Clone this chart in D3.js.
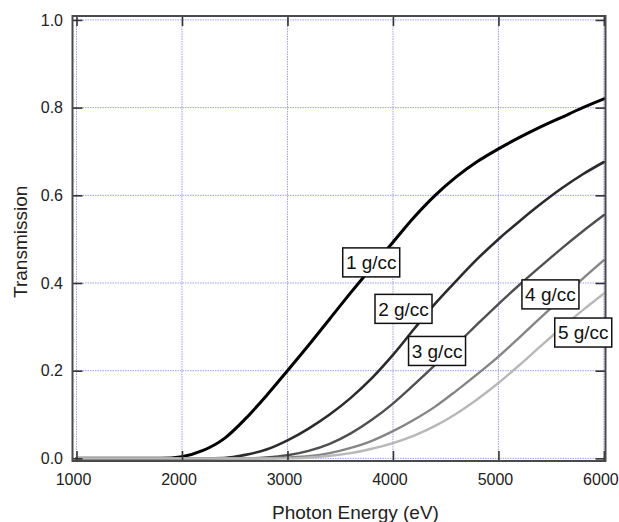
<!DOCTYPE html>
<html>
<head>
<meta charset="utf-8">
<script src="https://cdn.jsdelivr.net/npm/d3@7"></script>
<style>
  html, body { margin: 0; padding: 0; background: #fff; }
  svg { display: block; font-family: "Liberation Sans", Arial, Helvetica, sans-serif; }
</style>
</head>
<body>
<svg id="chart" width="619" height="522"></svg>
<script>
// ---- data ----
const energies = [1000,1200,1400,1600,1800,2000,2200,2400,2600,2800,3000,3200,3400,3600,3800,4000,4200,4400,4600,4800,5000,5200,5400,5600,5800,6000];
const trans1 = [0,0,0,0,0,0.004,0.018,0.045,0.090,0.143,0.200,0.258,0.318,0.378,0.436,0.493,0.550,0.600,0.642,0.677,0.706,0.732,0.756,0.778,0.800,0.820];
const trans2 = [0,0,0,0,0,0,0,0.001,0.008,0.020,0.041,0.068,0.100,0.138,0.183,0.236,0.295,0.353,0.405,0.455,0.500,0.541,0.580,0.616,0.648,0.676];
const trans3 = [0,0,0,0,0,0,0,0,0,0.002,0.007,0.017,0.033,0.057,0.088,0.125,0.168,0.213,0.259,0.306,0.352,0.396,0.438,0.479,0.518,0.555];
const trans4 = [0,0,0,0,0,0,0,0,0,0,0.002,0.005,0.012,0.024,0.040,0.062,0.088,0.118,0.154,0.192,0.232,0.276,0.321,0.366,0.410,0.452];
const trans5 = [0,0,0,0,0,0,0,0,0,0,0,0.002,0.006,0.012,0.022,0.035,0.052,0.074,0.102,0.135,0.172,0.213,0.256,0.298,0.338,0.376];
const seriesNames = ["1 g/cc","2 g/cc","3 g/cc","4 g/cc","5 g/cc"];
// label anchor points in data units (energy, transmission)
const labelE = [3794, 4100, 4418, 5493, 5804];
const labelT = [0.447, 0.341, 0.245, 0.374, 0.287];
const xTicks = [1000,2000,3000,4000,5000,6000];
const yTicks = [0.0,0.2,0.4,0.6,0.8,1.0];
const xTitle = "Photon Energy (eV)";
const yTitle = "Transmission";

// ---- styles ----
const colors = ["#000000","#2b2b2b","#505050","#858585","#b8b8b8"];
const widths = [3, 2.6, 2.4, 2.4, 2.4];

const svg = d3.select("#chart");
const pLeft = 72.5, pRight = 605.5, pTop = 16, pBottom = 461;

const x = d3.scaleLinear().domain([962, 6015]).range([pLeft, pRight]);
const y = d3.scaleLinear().domain([-0.006, 1.009]).range([pBottom, pTop]);

// grid
const grid = svg.append("g").attr("stroke", "#8f8ff5").attr("stroke-width", 1)
  .attr("stroke-dasharray", "1.5,1").attr("opacity", 0.85);
grid.selectAll("line.v").data(xTicks).join("line").attr("class", "v")
  .attr("x1", d => x(d)).attr("x2", d => x(d)).attr("y1", pTop).attr("y2", pBottom);
grid.selectAll("line.h").data(yTicks).join("line").attr("class", "h")
  .attr("y1", d => y(d)).attr("y2", d => y(d)).attr("x1", pLeft).attr("x2", pRight);

// curves
const allSeries = [trans1, trans2, trans3, trans4, trans5];
const line = d3.line().x(d => x(d[0])).y(d => y(d[1])).curve(d3.curveMonotoneX);
svg.append("g").selectAll("path").data(allSeries).join("path")
  .attr("d", s => line(energies.map((e, i) => [e, s[i]])))
  .attr("fill", "none")
  .attr("stroke", (d, i) => colors[i])
  .attr("stroke-width", (d, i) => widths[i])
  .attr("stroke-linejoin", "round")
  .attr("stroke-linecap", "round");

// axes (inward ticks)
const axisStyle = g => {
  g.select(".domain").remove();
  g.selectAll(".tick line").attr("stroke", "#333").attr("stroke-width", 1.6);
  g.selectAll(".tick text").attr("fill", "#222").attr("font-size", 16)
    .attr("font-family", "Liberation Sans, Arial, Helvetica, sans-serif");
};
svg.append("g").attr("transform", `translate(0,${pBottom})`)
  .call(d3.axisBottom(x).tickValues(xTicks).tickSize(-10).tickPadding(12.5).tickFormat(d3.format("d")))
  .call(axisStyle)
  .call(g => g.selectAll(".tick text").attr("dx", -3.5));
svg.append("g").attr("transform", `translate(0,${pTop})`)
  .call(d3.axisTop(x).tickValues(xTicks).tickSize(-10).tickFormat(""))
  .call(axisStyle);
svg.append("g").attr("transform", `translate(${pLeft},0)`)
  .call(d3.axisLeft(y).tickValues(yTicks).tickSize(-10).tickPadding(9.5).tickFormat(d3.format(".1f")))
  .call(axisStyle);
svg.append("g").attr("transform", `translate(${pRight},0)`)
  .call(d3.axisRight(y).tickValues(yTicks).tickSize(-10).tickFormat(""))
  .call(axisStyle);

// frame
svg.append("rect").attr("x", pLeft).attr("y", pTop)
  .attr("width", pRight - pLeft).attr("height", pBottom - pTop)
  .attr("fill", "none").attr("stroke", "#4a4a4a").attr("stroke-width", 2);

// series labels
const lab = svg.append("g").selectAll("g").data(seriesNames).join("g")
  .attr("transform", (d, i) => `translate(${x(labelE[i])},${y(labelT[i])})`);
lab.append("rect").attr("x", -28.5).attr("y", -14.5).attr("width", 57).attr("height", 29)
  .attr("fill", "#fff").attr("stroke", "#111").attr("stroke-width", 1.5);
lab.append("text").text(d => d).attr("text-anchor", "middle").attr("dy", "0.35em")
  .attr("font-size", 19).attr("fill", "#111");

// axis titles
svg.append("text").attr("x", 355.5).attr("y", 518.5).attr("text-anchor", "middle")
  .attr("font-size", 19).attr("fill", "#222").text(xTitle);
svg.append("text").attr("transform", "translate(26.7,241.8) rotate(-90)")
  .attr("text-anchor", "middle").attr("font-size", 19).attr("fill", "#222").text(yTitle);
</script>
</body>
</html>
